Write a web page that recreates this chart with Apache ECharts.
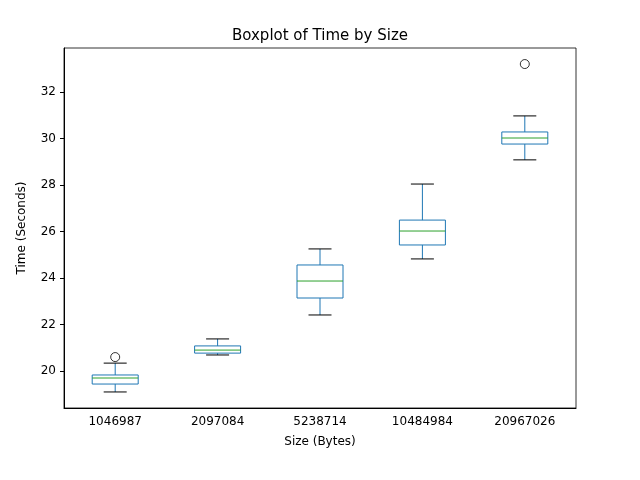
<!DOCTYPE html>
<html><head><meta charset="utf-8">
<script src="https://cdn.jsdelivr.net/npm/echarts@6/dist/echarts.min.js"></script>
<style>body{margin:0}#c{width:640px;height:480px}</style></head>
<body><div id="c"></div>
<script>
const categories = ['1046987','2097084','5238714','10484984','20967026'];
// [low whisker, Q1, median, Q3, high whisker]
const boxes = [
  [19.10, 19.44, 19.70, 19.83, 20.34],
  [20.69, 20.77, 20.90, 21.08, 21.38],
  [22.41, 23.14, 23.87, 24.56, 25.25],
  [24.82, 25.42, 26.02, 26.49, 28.04],
  [29.08, 29.76, 30.02, 30.28, 30.97]
];
const outliers = [[0, 20.60], [4, 33.20]];
const yTicks = [20, 22, 24, 26, 28, 30, 32];

const chart = echarts.init(document.getElementById('c'));
const font = 'DejaVu Sans';
const blue = '#1f77b4';
chart.setOption({
  animation: false,
  title: {text: 'Boxplot of Time by Size', left: 'center', top: 24,
    textStyle: {fontFamily: font, fontSize: 15, fontWeight: 'normal', color: '#000'}},
  grid: {left: 64, right: 64, top: 48, bottom: 72, show: true, borderColor: '#000', borderWidth: 0.8},
  xAxis: {type: 'category', data: categories, name: 'Size (Bytes)', nameLocation: 'middle', nameGap: 28,
    nameTextStyle: {fontFamily: font, fontSize: 12, color: '#000'},
    axisLine: {lineStyle: {color: '#000'}}, axisTick: {alignWithLabel: true, lineStyle: {color: '#000'}, length: 4},
    axisLabel: {fontFamily: font, fontSize: 12, color: '#000'}, splitLine: {show: false}},
  yAxis: {type: 'value', min: 18.41, max: 33.89, name: 'Time (Seconds)', nameLocation: 'middle', nameGap: 36,
    nameTextStyle: {fontFamily: font, fontSize: 12, color: '#000'},
    axisLine: {show: true, lineStyle: {color: '#000'}},
    axisTick: {show: true, customValues: yTicks, length: 4, lineStyle: {color: '#000'}},
    axisLabel: {customValues: yTicks, fontFamily: font, fontSize: 12, color: '#000'},
    splitLine: {show: false}},
  series: [
    {type: 'custom', data: boxes.map((b, i) => [i, ...b]),
      renderItem: (params, api) => {
        const i = api.value(0);
        const p = k => api.coord([i, api.value(k)]);
        const lo = p(1), q1 = p(2), md = p(3), q3 = p(4), hi = p(5);
        const x = lo[0], hw = 23, cw = 11.5;
        const s = {stroke: blue, lineWidth: 1, fill: null};
        const L = (x1, y1, x2, y2, st) => ({type: 'line', shape: {x1, y1, x2, y2}, style: st || s});
        return {type: 'group', children: [
          {type: 'rect', shape: {x: x - hw, y: q3[1], width: 2 * hw, height: q1[1] - q3[1]}, style: {stroke: blue, fill: null, lineWidth: 1}},
          L(x, q1[1], x, lo[1]), L(x, q3[1], x, hi[1]),
          L(x - cw, lo[1], x + cw, lo[1], {stroke: '#000', lineWidth: 1}),
          L(x - cw, hi[1], x + cw, hi[1], {stroke: '#000', lineWidth: 1}),
          L(x - hw, md[1], x + hw, md[1], {stroke: '#2ca02c', lineWidth: 1})
        ]};
      }},
    {type: 'scatter', data: outliers, symbol: 'circle', symbolSize: 9,
      itemStyle: {color: 'transparent', borderColor: '#000', borderWidth: 1}}
  ]
});
</script></body></html>
